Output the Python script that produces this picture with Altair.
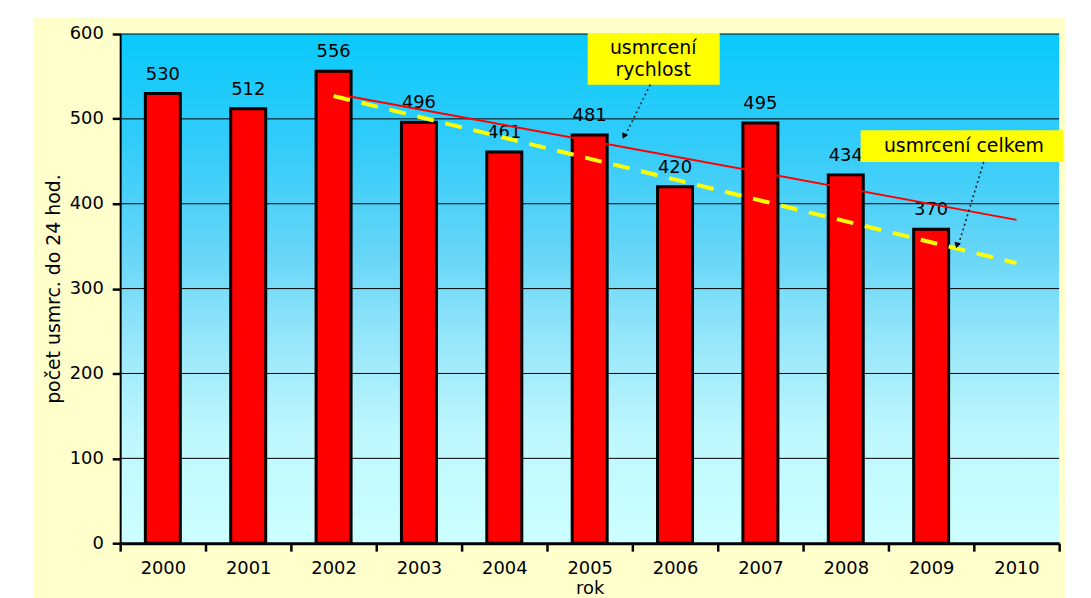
import altair as alt
import pandas as pd

# ---- data ----
years = ["2000", "2001", "2002", "2003", "2004", "2005", "2006", "2007", "2008", "2009", "2010"]
bar_years = ["2000", "2001", "2002", "2003", "2004", "2005", "2006", "2007", "2008", "2009"]
deaths = [530, 512, 556, 496, 461, 481, 420, 495, 434, 370]
trend_years = ["2002", "2010"]
trend_speed = [530, 381]   # usmrcení rychlost
trend_total = [527, 330]   # usmrcení celkem
grid_values = [100, 200, 300, 400, 500, 600]
y_ticks = [0, 100, 200, 300, 400, 500, 600]

W, H = 946, 513
FONT = "DejaVu Sans"

xscale = alt.Scale(domain=years, paddingInner=0, paddingOuter=0)
yscale = alt.Scale(domain=[0, 600], nice=False, zero=True)

bars_df = pd.DataFrame({"rok": bar_years, "pocet": deaths})
speed_df = pd.DataFrame({"rok": trend_years, "pocet": trend_speed})
total_df = pd.DataFrame({"rok": trend_years, "pocet": trend_total})
grid_df = pd.DataFrame({"pocet": grid_values})

one = alt.Data(values=[{"a": 1}])

x_axis = alt.Axis(
    title="rok", labelAngle=0, tickBand="extent", grid=False, zindex=1,
    domainColor="black", domainWidth=3, tickColor="black", tickWidth=2.5, tickSize=8,
    labelFont=FONT, labelFontSize=18, labelColor="black", labelPadding=9,
    titleFont=FONT, titleFontSize=18, titleFontWeight="normal", titleColor="black",
    titleY=46, titleBaseline="middle",
)
y_axis = alt.Axis(
    title="počet usmrc. do 24 hod.", values=y_ticks, grid=False, zindex=1,
    domainColor="black", domainWidth=2, tickColor="black", tickWidth=2.5, tickSize=8,
    labelFont=FONT, labelFontSize=18, labelColor="black", labelPadding=9,
    titleFont=FONT, titleFontSize=19, titleFontWeight="normal", titleColor="black",
    titleX=-67, titleBaseline="middle",
)

outer = alt.Chart(one).mark_rect(fill="#FFFFCC", clip=False).encode(
    x=alt.value(-87), x2=alt.value(952), y=alt.value(-17), y2=alt.value(580)
)

gradient = alt.LinearGradient(
    gradient="linear", x1=0, x2=0, y1=0, y2=1,
    stops=[
        alt.GradientStop(color="#08CAFC", offset=0),
        alt.GradientStop(color="#33CCF9", offset=0.22),
        alt.GradientStop(color="#64D5F7", offset=0.42),
        alt.GradientStop(color="#96E6FA", offset=0.6),
        alt.GradientStop(color="#BDF7FE", offset=0.78),
        alt.GradientStop(color="#CCFFFF", offset=1),
    ],
)
bg = alt.Chart(one).mark_rect(fill=gradient).encode(
    x=alt.value(0), x2=alt.value(W), y=alt.value(0), y2=alt.value(H)
)

grid = alt.Chart(grid_df).mark_rule(color="black", strokeWidth=1).encode(
    y=alt.Y("pocet:Q", scale=yscale, axis=y_axis)
)

bars = alt.Chart(bars_df).mark_bar(
    fill="#FF0000", stroke="black", strokeWidth=3, width=alt.RelativeBandSize(0.41)
).encode(
    x=alt.X("rok:N", scale=xscale, sort=years, axis=x_axis),
    y=alt.Y("pocet:Q", scale=yscale, axis=y_axis),
)

labels = alt.Chart(bars_df).mark_text(
    font=FONT, fontSize=18, color="black", baseline="alphabetic", dy=-14
).encode(
    x=alt.X("rok:N", scale=xscale, sort=years, axis=x_axis),
    y=alt.Y("pocet:Q", scale=yscale, axis=y_axis),
    text="pocet:Q",
)

red_line = alt.Chart(speed_df).mark_line(color="#FF0000", strokeWidth=2).encode(
    x=alt.X("rok:N", scale=xscale, sort=years, axis=x_axis),
    y=alt.Y("pocet:Q", scale=yscale, axis=y_axis),
)
yellow_line = alt.Chart(total_df).mark_line(
    color="#FFFF00", strokeWidth=4, strokeDash=[17, 12]
).encode(
    x=alt.X("rok:N", scale=xscale, sort=years, axis=x_axis),
    y=alt.Y("pocet:Q", scale=yscale, axis=y_axis),
)

# ---- callouts (pixel positions of annotation boxes) ----
box1 = alt.Chart(one).mark_rect(fill="#FFFF00", clip=False).encode(
    x=alt.value(471), x2=alt.value(604), y=alt.value(-1), y2=alt.value(51)
)
box1_t1 = alt.Chart(one).mark_text(text="usmrcení", font=FONT, fontSize=19, color="black",
                                   baseline="alphabetic", align="center").encode(
    x=alt.value(537), y=alt.value(20)
)
box1_t2 = alt.Chart(one).mark_text(text="rychlost", font=FONT, fontSize=19, color="black",
                                   baseline="alphabetic", align="center").encode(
    x=alt.value(537), y=alt.value(42)
)
arrow1 = alt.Chart(one).mark_rule(color="#222222", strokeWidth=1.6, strokeDash=[2, 3]).encode(
    x=alt.value(534), y=alt.value(51), x2=alt.value(508), y2=alt.value(104)
)
head1 = alt.Chart(one).mark_point(shape="triangle-down", filled=True, color="black",
                                  size=45, angle=26, opacity=1).encode(
    x=alt.value(507.5), y=alt.value(103)
)

box2 = alt.Chart(one).mark_rect(fill="#FFFF00", clip=False).encode(
    x=alt.value(746), x2=alt.value(950), y=alt.value(97), y2=alt.value(129)
)
box2_t = alt.Chart(one).mark_text(text="usmrcení celkem", font=FONT, fontSize=19, color="black",
                                  baseline="alphabetic", align="center").encode(
    x=alt.value(850), y=alt.value(119)
)
arrow2 = alt.Chart(one).mark_rule(color="#222222", strokeWidth=1.6, strokeDash=[2, 3]).encode(
    x=alt.value(870), y=alt.value(129), x2=alt.value(844), y2=alt.value(214)
)
head2 = alt.Chart(one).mark_point(shape="triangle-down", filled=True, color="black",
                                  size=45, angle=16, opacity=1).encode(
    x=alt.value(843), y=alt.value(213)
)

chart = alt.layer(
    outer, bg, grid, bars, labels, red_line, yellow_line,
    box1, box1_t1, box1_t2, arrow1, head1,
    box2, box2_t, arrow2, head2,
).properties(
    width=W, height=H,
    autosize=alt.AutoSizeParams(type="none"),
    padding={"left": 113, "top": 24, "right": 24, "bottom": 53},
    background="white",
).configure_view(stroke=None)

chart.save("out.html", embed_options={"renderer": "svg", "actions": False})
